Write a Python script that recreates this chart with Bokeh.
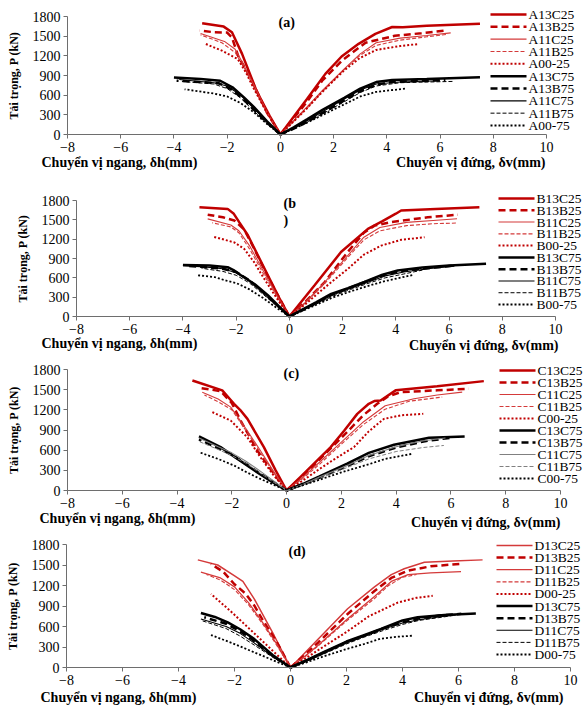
from bokeh.plotting import figure
from bokeh.models import Label, Range1d, FixedTicker
from bokeh.core.properties import value
from bokeh.layouts import column
from bokeh.embed import file_html
from bokeh.resources import INLINE

# ---------------- data ----------------
SUFFIXES = ["13C25", "13B25", "11C25", "11B25", "00-25",
            "13C75", "13B75", "11C75", "11B75", "00-75"]
X_TICKS = [-8, -6, -4, -2, 0, 2, 4, 6, 8, 10]
Y_TICKS = [0, 300, 600, 900, 1200, 1500, 1800]

# horizontal displacement branch (plotted at negative x), panel (a)
A_H = {
    "A13C25": ([0, -0.4, -0.88, -1.2, -1.44, -1.82, -2.13, -2.94], [0, 280, 650, 980, 1230, 1560, 1646, 1697]),
    "A13B25": ([0, -0.5, -1.0, -1.3, -1.57, -1.82, -2.0, -2.5, -3.03], [0, 330, 760, 1000, 1180, 1480, 1555, 1560, 1585]),
    "A11C25": ([0, -0.5, -1.0, -1.4, -1.7, -2.1, -3.0], [0, 340, 760, 1080, 1300, 1420, 1540]),
    "A11B25": ([0, -0.5, -1.0, -1.4, -1.7, -2.2, -3.0], [0, 320, 720, 1050, 1250, 1400, 1520]),
    "A00-25": ([0, -0.6, -1.0, -1.3, -1.6, -2.2, -2.8], [0, 400, 700, 950, 1150, 1280, 1380]),
    "A13C75": ([0, -0.5, -1.0, -1.38, -1.8, -2.26, -3.0, -4.0], [0, 200, 420, 570, 720, 820, 845, 870]),
    "A13B75": ([0, -0.5, -1.0, -1.4, -1.8, -2.3, -3.0, -3.9], [0, 180, 380, 540, 680, 780, 800, 820]),
    "A11C75": ([0, -0.5, -1.0, -1.5, -2.0, -2.5, -3.8], [0, 190, 400, 600, 740, 790, 840]),
    "A11B75": ([0, -0.5, -1.0, -1.5, -2.0, -2.5, -3.7], [0, 170, 360, 560, 700, 770, 810]),
    "A00-75": ([0, -0.5, -1.0, -1.5, -2.0, -2.5, -3.6], [0, 160, 340, 480, 580, 625, 690]),
}
# vertical displacement branch, panel (a)
A_V = {
    "A13C25": ([0, 0.5, 1.0, 1.69, 2.3, 2.94, 3.57, 4.2, 4.6, 5.5, 7.5], [0, 270, 540, 925, 1190, 1383, 1535, 1640, 1636, 1660, 1690]),
    "A13B25": ([0, 0.5, 1.0, 1.57, 2.32, 3.2, 4.3, 5.3, 6.2], [0, 250, 500, 820, 1130, 1400, 1505, 1545, 1585]),
    "A11C25": ([0, 0.5, 1.0, 1.6, 2.4, 3.0, 3.6, 4.5, 5.5, 6.4], [0, 210, 420, 680, 1000, 1230, 1400, 1470, 1510, 1550]),
    "A11B25": ([0, 0.5, 1.0, 1.6, 2.4, 3.0, 3.6, 4.5, 5.5, 6.3], [0, 200, 400, 660, 990, 1210, 1360, 1440, 1490, 1530]),
    "A00-25": ([0, 0.5, 1.0, 1.6, 2.4, 3.0, 3.6, 4.5, 5.2], [0, 200, 400, 660, 980, 1170, 1290, 1350, 1380]),
    "A13C75": ([0, 0.5, 1.0, 1.6, 2.4, 3.0, 3.6, 4.2, 5.5, 7.5], [0, 110, 230, 380, 560, 700, 800, 830, 845, 875]),
    "A13B75": ([0, 0.5, 1.0, 1.6, 2.4, 3.0, 3.6, 4.2, 6.2], [0, 90, 190, 330, 520, 660, 760, 800, 830]),
    "A11C75": ([0, 0.5, 1.0, 1.6, 2.4, 3.0, 3.6, 4.5, 6.0], [0, 100, 210, 350, 540, 680, 770, 800, 820]),
    "A11B75": ([0, 0.5, 1.0, 1.6, 2.4, 3.0, 3.6, 4.5, 6.5], [0, 90, 190, 320, 500, 640, 740, 790, 810]),
    "A00-75": ([0, 0.5, 1.0, 1.6, 2.4, 3.0, 3.6, 4.7], [0, 90, 180, 300, 460, 580, 650, 700]),
}

B_H = {
    "B13C25": ([0, -0.4, -0.81, -1.2, -1.56, -1.88, -2.1, -2.32, -3.38], [0, 300, 640, 960, 1260, 1460, 1600, 1670, 1697]),
    "B13B25": ([0, -0.5, -1.0, -1.32, -1.7, -2.07, -2.5, -3.07], [0, 380, 780, 1050, 1350, 1490, 1540, 1580]),
    "B11C25": ([0, -0.5, -1.0, -1.5, -1.9, -2.2, -3.07], [0, 350, 720, 1100, 1330, 1420, 1515]),
    "B11B25": ([0, -0.5, -1.0, -1.5, -1.9, -2.2, -2.9], [0, 330, 680, 1050, 1300, 1390, 1455]),
    "B00-25": ([0, -0.5, -1.0, -1.32, -1.7, -2.07, -2.88], [0, 300, 620, 840, 1050, 1150, 1240]),
    "B13C75": ([0, -0.4, -0.81, -1.3, -1.82, -2.1, -2.32, -3.0, -4.0], [0, 160, 330, 500, 640, 720, 765, 790, 800]),
    "B13B75": ([0, -0.5, -1.0, -1.5, -2.0, -2.5, -3.0, -3.9], [0, 190, 380, 560, 690, 740, 760, 790]),
    "B11C75": ([0, -0.5, -1.0, -1.5, -2.0, -2.5, -3.2, -4.0], [0, 180, 370, 550, 680, 740, 770, 790]),
    "B11B75": ([0, -0.5, -1.0, -1.5, -2.0, -2.5, -3.0, -3.3], [0, 170, 350, 520, 640, 700, 730, 750]),
    "B00-75": ([0, -0.5, -1.0, -1.5, -2.0, -2.32, -2.8, -3.44], [0, 140, 290, 420, 520, 550, 610, 640]),
}
B_V = {
    "B13C25": ([0, 0.94, 1.94, 2.95, 3.5, 4.0, 4.2, 5.5, 7.14], [0, 480, 1000, 1360, 1480, 1595, 1645, 1670, 1697]),
    "B13B25": ([0, 0.6, 1.32, 2.19, 2.8, 3.2, 3.82, 5.2, 6.33], [0, 230, 530, 1000, 1300, 1410, 1465, 1540, 1580]),
    "B11C25": ([0, 0.6, 1.3, 2.2, 2.8, 3.4, 4.4, 5.4, 6.3], [0, 220, 520, 950, 1230, 1380, 1460, 1490, 1517]),
    "B11B25": ([0, 0.6, 1.3, 2.2, 2.8, 3.4, 4.4, 5.4, 6.27], [0, 210, 500, 920, 1190, 1330, 1410, 1440, 1450]),
    "B00-25": ([0, 0.6, 1.3, 2.2, 2.8, 3.45, 4.2, 5.08], [0, 190, 440, 740, 960, 1100, 1190, 1230]),
    "B13C75": ([0, 0.5, 1.0, 1.57, 2.2, 2.82, 3.5, 4.07, 5.0, 6.0, 7.39], [0, 110, 220, 350, 440, 535, 650, 715, 760, 790, 818]),
    "B13B75": ([0, 0.5, 1.0, 1.6, 2.3, 3.0, 3.6, 4.3, 5.2, 6.2], [0, 100, 210, 340, 450, 560, 650, 710, 750, 790]),
    "B11C75": ([0, 0.5, 1.0, 1.6, 2.3, 3.0, 3.6, 4.3, 5.2, 6.2], [0, 100, 200, 330, 440, 540, 630, 690, 740, 780]),
    "B11B75": ([0, 0.5, 1.0, 1.6, 2.3, 3.0, 3.6, 4.3, 5.0], [0, 95, 190, 310, 420, 520, 600, 660, 720]),
    "B00-75": ([0, 0.5, 1.0, 1.6, 2.3, 3.0, 3.6, 4.64], [0, 90, 180, 290, 390, 480, 550, 645]),
}

C_H = {
    "C13C25": ([0, -0.4, -0.83, -1.15, -1.43, -1.7, -1.92, -2.35, -3.44], [0, 300, 645, 870, 1065, 1200, 1290, 1490, 1637]),
    "C13B25": ([0, -0.5, -1.07, -1.68, -2.0, -2.41, -3.2], [0, 270, 595, 1040, 1300, 1478, 1528]),
    "C11C25": ([0, -0.5, -1.0, -1.5, -2.04, -2.5, -3.08], [0, 300, 620, 930, 1240, 1360, 1460]),
    "C11B25": ([0, -0.5, -1.0, -1.5, -2.0, -2.5, -3.0], [0, 280, 590, 900, 1200, 1320, 1420]),
    "C00-25": ([0, -0.5, -1.0, -1.43, -2.04, -2.71], [0, 240, 520, 790, 1040, 1165]),
    "C13C75": ([0, -0.5, -1.0, -1.43, -1.9, -2.41, -3.2], [0, 120, 250, 370, 500, 645, 805]),
    "C13B75": ([0, -0.5, -1.0, -1.5, -2.0, -2.5, -3.2], [0, 130, 260, 400, 530, 630, 760]),
    "C11C75": ([0, -0.5, -1.0, -1.5, -2.0, -2.5, -3.2], [0, 150, 300, 440, 560, 650, 780]),
    "C11B75": ([0, -0.5, -1.0, -1.5, -2.0, -2.5, -3.2], [0, 130, 270, 410, 520, 610, 730]),
    "C00-75": ([0, -0.5, -1.0, -1.5, -1.92, -2.5, -3.2], [0, 90, 180, 280, 372, 470, 570]),
}
C_V = {
    "C13C25": ([0, 0.5, 1.0, 1.61, 2.1, 2.58, 3.0, 3.2, 3.43, 3.98, 5.5, 7.2], [0, 200, 400, 645, 890, 1140, 1290, 1330, 1340, 1490, 1550, 1627]),
    "C13B25": ([0, 0.6, 1.2, 2.21, 2.8, 3.31, 3.7, 4.16, 5.5, 6.65], [0, 220, 460, 870, 1120, 1290, 1400, 1463, 1490, 1513]),
    "C11C25": ([0, 0.6, 1.2, 2.0, 2.8, 3.6, 4.65, 5.5, 6.41], [0, 200, 420, 720, 1020, 1260, 1365, 1420, 1463]),
    "C11B25": ([0, 0.6, 1.2, 2.0, 2.8, 3.6, 4.5, 5.68], [0, 180, 390, 690, 980, 1210, 1330, 1390]),
    "C00-25": ([0, 0.6, 1.2, 1.8, 2.46, 3.0, 3.55, 4.2, 4.99], [0, 150, 320, 480, 645, 880, 1065, 1120, 1141]),
    "C13C75": ([0, 0.6, 1.2, 2.21, 3.0, 3.92, 5.2, 6.5], [0, 100, 210, 400, 560, 680, 785, 805]),
    "C13B75": ([0, 0.6, 1.2, 2.2, 3.0, 4.0, 5.0, 6.0], [0, 90, 190, 360, 510, 640, 730, 785]),
    "C11C75": ([0, 0.6, 1.2, 2.2, 3.0, 4.0, 5.0, 5.8], [0, 90, 200, 370, 520, 650, 740, 780]),
    "C11B75": ([0, 0.6, 1.2, 2.2, 3.0, 4.0, 5.0, 5.74], [0, 85, 180, 340, 470, 580, 640, 670]),
    "C00-75": ([0, 0.6, 1.2, 2.0, 3.0, 3.6, 4.59], [0, 80, 160, 270, 390, 470, 546]),
}

D_H = {
    "D13C25": ([0, -0.58, -1.29, -1.7, -2.01, -2.6, -3.31], [0, 465, 1000, 1260, 1345, 1500, 1575]),
    "D13B25": ([0, -0.5, -1.0, -1.29, -1.6, -2.01, -2.4, -2.84], [0, 380, 700, 905, 1080, 1222, 1400, 1515]),
    "D11C25": ([0, -0.5, -1.0, -1.5, -2.0, -2.5, -3.2], [0, 350, 660, 950, 1180, 1310, 1395]),
    "D11B25": ([0, -0.5, -1.0, -1.5, -2.0, -2.5, -3.0], [0, 330, 640, 920, 1140, 1280, 1360]),
    "D00-25": ([0, -0.7, -1.4, -2.1, -2.84], [0, 270, 540, 810, 1076]),
    "D13C75": ([0, -0.6, -1.29, -1.8, -2.24, -2.7, -3.2], [0, 170, 415, 560, 660, 740, 797]),
    "D13B75": ([0, -0.6, -1.3, -1.8, -2.3, -3.08], [0, 160, 390, 530, 640, 735]),
    "D11C75": ([0, -0.6, -1.3, -1.8, -2.3, -3.2], [0, 150, 360, 500, 600, 710]),
    "D11B75": ([0, -0.6, -1.3, -1.8, -2.3, -3.2], [0, 140, 330, 460, 570, 690]),
    "D00-75": ([0, -0.7, -1.4, -2.1, -2.84], [0, 120, 240, 360, 475]),
}
D_V = {
    "D13C25": ([0, 0.5, 1.0, 2.04, 3.0, 3.6, 4.06, 4.78, 5.8, 6.86], [0, 210, 420, 860, 1180, 1360, 1445, 1540, 1560, 1575]),
    "D13B25": ([0, 0.5, 1.0, 2.04, 3.0, 3.6, 4.19, 5.0, 6.03], [0, 180, 370, 783, 1120, 1310, 1418, 1480, 1516]),
    "D11C25": ([0, 0.5, 1.0, 2.0, 3.0, 3.6, 4.2, 5.0, 6.09], [0, 160, 330, 700, 1040, 1260, 1360, 1385, 1403]),
    "D11B25": ([0, 0.5, 1.0, 2.0, 3.0, 3.5, 4.0, 4.5], [0, 150, 320, 680, 1010, 1200, 1320, 1360]),
    "D00-25": ([0, 0.6, 1.2, 2.0, 2.8, 3.83, 4.5, 5.08], [0, 150, 310, 520, 750, 950, 1020, 1050]),
    "D13C75": ([0, 0.6, 1.2, 2.0, 2.6, 3.23, 4.0, 4.54, 5.5, 6.62], [0, 110, 230, 380, 470, 565, 690, 735, 770, 792]),
    "D13B75": ([0, 0.6, 1.2, 2.0, 2.6, 3.3, 4.0, 4.6, 5.3, 6.1], [0, 105, 220, 370, 460, 570, 660, 720, 760, 785]),
    "D11C75": ([0, 0.6, 1.2, 2.0, 2.6, 3.3, 4.0, 4.6, 5.3, 5.9], [0, 100, 210, 360, 450, 560, 650, 700, 740, 770]),
    "D11B75": ([0, 0.6, 1.2, 2.0, 2.6, 3.3, 4.0, 4.6, 5.3, 5.8], [0, 95, 200, 345, 440, 540, 630, 690, 730, 760]),
    "D00-75": ([0, 0.6, 1.2, 2.0, 2.6, 3.2, 3.8, 4.36], [0, 80, 165, 270, 340, 420, 450, 465]),
}

Y_LABEL = "Tải trọng, P (kN)"
XH_LABEL = "Chuyển vị ngang, δh(mm)"
XV_LABEL = "Chuyển vị đứng, δv(mm)"

# ---------------- styling ----------------
RED = "#C00000"
RED_T = "#D43a3a"
BLACK = "#000000"
GREY = "#808080"
SERIF = "Liberation Serif, Times New Roman, DejaVu Serif, serif"
AXIS_COL = "#6e6e6e"
PAGE_W = 583

BASE_STYLE = [
    dict(color=RED, width=2.5, dash="solid"),
    dict(color=RED, width=2.5, dash="7 4"),
    dict(color=RED_T, width=1.1, dash="solid"),
    dict(color=RED_T, width=1.1, dash="4 2"),
    dict(color=RED, width=2.0, dash="2 2"),
    dict(color=BLACK, width=2.5, dash="solid"),
    dict(color=BLACK, width=2.5, dash="7 4"),
    dict(color=BLACK, width=1.1, dash="solid"),
    dict(color=BLACK, width=1.0, dash="4 2"),
    dict(color=BLACK, width=1.8, dash="2 2"),
]

# layout of each panel, in page pixels (origin = top-left of the window)
LAYOUT = {
    "A": dict(top=0, bot=188, fl=67, fr=546, y18=16, y0=134,
              leg_x=490, leg_r0=14, leg_r9=125,
              lab_l=(41, 162), lab_r=(545, 162),
              tags=[(278, 22, "(a)")]),
    "B": dict(top=188, bot=361, fl=76, fr=555, y18=200, y0=316,
              leg_x=498, leg_r0=198, leg_r9=304,
              lab_l=(41, 343), lab_r=(558, 345),
              tags=[(283, 203, "(b"), (283, 220, ")")]),
    "C": dict(top=361, bot=536, fl=67, fr=560, y18=369, y0=490,
              leg_x=499, leg_r0=370, leg_r9=478,
              lab_l=(39, 518), lab_r=(560, 522),
              tags=[(283, 373, "(c)")]),
    "D": dict(top=536, bot=707, fl=66, fr=570, y18=544, y0=667,
              leg_x=496, leg_r0=545, leg_r9=654,
              lab_l=(40, 697), lab_r=(563, 697),
              tags=[(288, 551, "(d)")]),
}


def make_panel(letter, hdata, vdata, lay, overrides=None):
    fl, fr, y18, y0 = lay["fl"], lay["fr"], lay["y18"], lay["y0"]
    ppx = (fr - fl) / 18.0
    ppy = (y0 - y18) / 1800.0

    def X(px):
        return -8 + (px - fl) / ppx

    def Y(py):
        return (y0 - py) / ppy

    H = lay["bot"] - lay["top"]
    p = figure(width=PAGE_W, height=H, min_border=0,
               x_range=Range1d(X(0), X(PAGE_W)),
               y_range=Range1d(Y(lay["bot"]), Y(lay["top"])),
               output_backend="svg", toolbar_location=None, title=None)
    p.xgrid.visible = False
    p.ygrid.visible = False
    p.outline_line_color = None

    p.xaxis.fixed_location = 0
    p.yaxis.fixed_location = -8
    p.xaxis.bounds = (-8, 10)
    p.yaxis.bounds = (0, 1800)
    p.xaxis.ticker = FixedTicker(ticks=X_TICKS)
    p.yaxis.ticker = FixedTicker(ticks=Y_TICKS)
    for ax in (p.xaxis[0], p.yaxis[0]):
        ax.axis_line_color = AXIS_COL
        ax.major_tick_line_color = AXIS_COL
        ax.major_tick_out = 4
        ax.major_tick_in = 0
        ax.minor_tick_line_color = None
        ax.major_label_text_font = SERIF
        ax.major_label_text_font_size = "14px"
        ax.major_label_text_color = "black"
        ax.major_label_standoff = 3
    p.yaxis.axis_label = Y_LABEL
    p.yaxis.axis_label_text_font = SERIF
    p.yaxis.axis_label_text_font_style = "bold"
    p.yaxis.axis_label_text_font_size = "12px"
    p.yaxis.axis_label_text_color = "black"
    p.yaxis.axis_label_standoff = 9

    names = []
    styles = []
    for i, suf in enumerate(SUFFIXES):
        name = letter + suf
        st = dict(BASE_STYLE[i])
        if overrides and i in overrides:
            st.update(overrides[i])
        hx, hy = hdata[name]
        vx, vy = vdata[name]
        p.line(hx, hy, line_color=st["color"], line_width=st["width"],
               line_dash=st["dash"])
        p.line(vx, vy, line_color=st["color"], line_width=st["width"],
               line_dash=st["dash"])
        names.append(name)
        styles.append(st)

    # legend (samples + labels), stacked at the upper right
    n = len(names)
    pitch = (lay["leg_r9"] - lay["leg_r0"]) / (n - 1)
    lx0 = X(lay["leg_x"])
    lx1 = X(lay["leg_x"] + 36)
    rows = [Y(lay["leg_r0"] + k * pitch) for k in range(n)]
    for k in range(n):
        st = styles[k]
        p.line([lx0, lx1], [rows[k], rows[k]], line_color=st["color"],
               line_width=st["width"], line_dash=st["dash"])
    p.text(x=[X(lay["leg_x"] + 38)] * n, y=rows, text=names,
           text_font=value(SERIF), text_font_size=value("13.5px"),
           text_baseline="middle", text_align="left", text_color="black")

    lxp, lyp = lay["lab_l"]
    rxp, ryp = lay["lab_r"]
    p.add_layout(Label(x=X(lxp), y=Y(lyp), text=XH_LABEL,
                       text_font=SERIF, text_font_style="bold",
                       text_font_size="14px", text_baseline="middle",
                       text_align="left", text_color="black"))
    p.add_layout(Label(x=X(rxp), y=Y(ryp), text=XV_LABEL,
                       text_font=SERIF, text_font_style="bold",
                       text_font_size="14px", text_baseline="middle",
                       text_align="right", text_color="black"))
    for (tx, ty, tt) in lay["tags"]:
        p.add_layout(Label(x=X(tx), y=Y(ty), text=tt, text_font=SERIF,
                           text_font_style="bold", text_font_size="14px",
                           text_baseline="middle", text_align="left",
                           text_color="black"))
    return p


pa = make_panel("A", A_H, A_V, LAYOUT["A"])
pb = make_panel("B", B_H, B_V, LAYOUT["B"])
pc = make_panel("C", C_H, C_V, LAYOUT["C"],
                overrides={7: dict(color=GREY), 8: dict(color=GREY)})
pd = make_panel("D", D_H, D_V, LAYOUT["D"],
                overrides={0: dict(color=RED_T, width=1.5),
                           2: dict(color=RED_T, width=1.3)})

layout = column(pa, pb, pc, pd, spacing=0)
open("out.html", "w").write(file_html(layout, INLINE))
